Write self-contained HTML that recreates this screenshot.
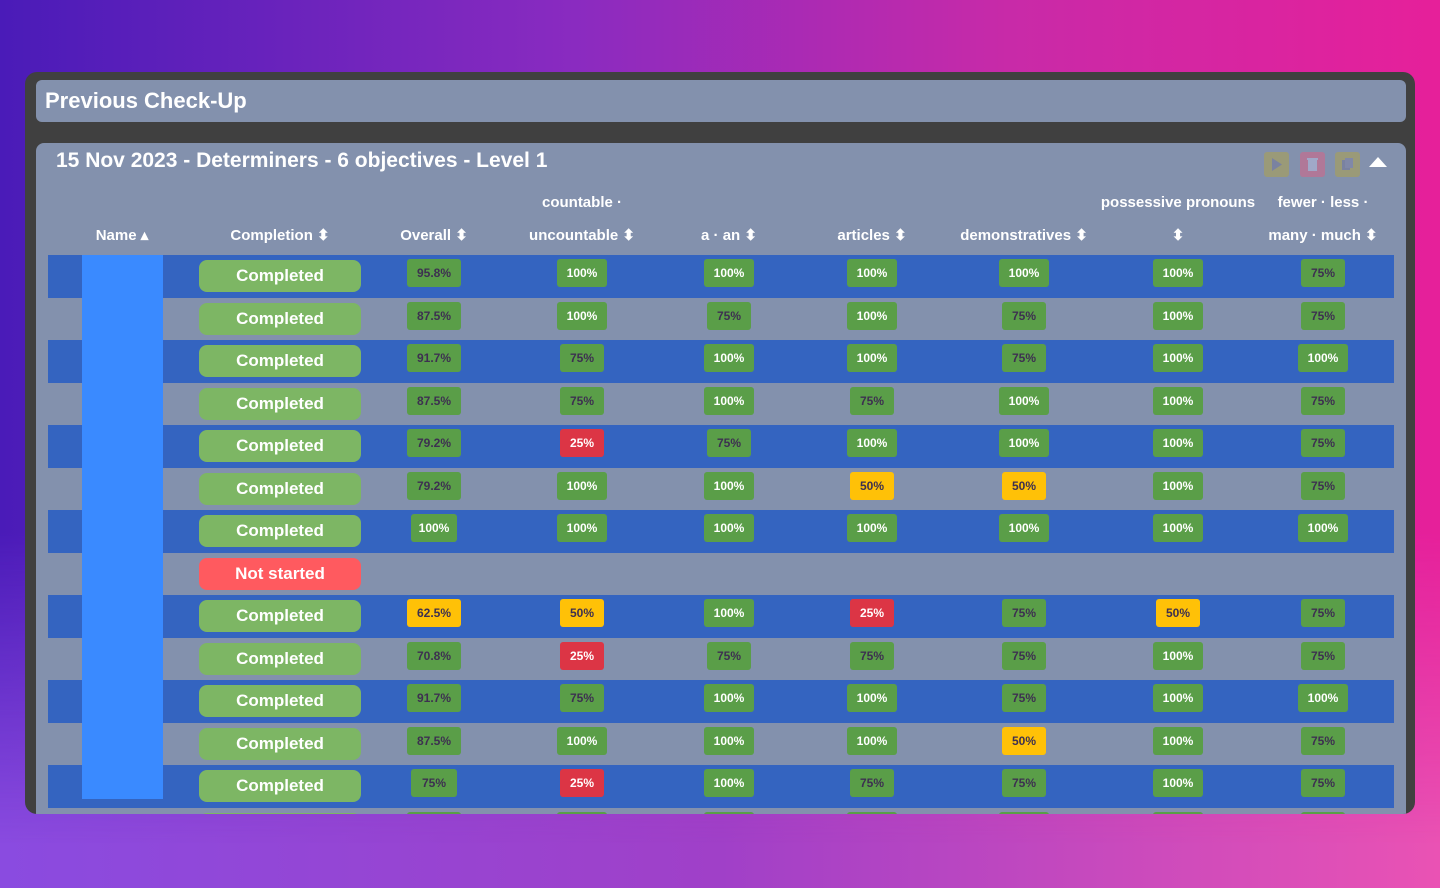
<!DOCTYPE html>
<html><head><meta charset="utf-8"><style>
*{box-sizing:border-box;margin:0;padding:0}
body{width:1440px;height:888px;overflow:hidden;font-family:"Liberation Sans",sans-serif;
background:linear-gradient(90deg,#8a4be0,#a040c8 50%,#ea52b4);position:relative}
.bgtop{position:absolute;left:0;top:0;width:1440px;height:888px;background:linear-gradient(90deg,#4a1bb8 0%,#8a2bc0 40%,#c82aa8 70%,#e6209a 100%);
-webkit-mask-image:linear-gradient(to bottom,#000 0%,#000 60%,transparent 95%);mask-image:linear-gradient(to bottom,#000 0%,#000 60%,transparent 95%)}
#outer{position:absolute;left:25px;top:72px;width:1390px;height:742px;background:#404040;border-radius:12px;overflow:hidden}
#titlebar{position:absolute;left:11px;top:8px;width:1370px;height:42px;background:#8391ad;border-radius:6px;color:#fff;font-size:22px;font-weight:bold;padding:8px 9px}
#inner{position:absolute;left:11px;top:71px;width:1370px;height:700px;background:#8391ad;border-radius:8px}
#subtitle{position:absolute;left:20px;top:6px;color:#fff;font-size:21px;font-weight:bold}
.ico{position:absolute;top:9px;width:25px;height:25px;border-radius:3px}
.hdr{position:absolute;color:#fff;font-size:15px;font-weight:bold;text-align:center;white-space:nowrap}
.row{position:absolute;left:12px;width:1346px;height:42.5px}
.badge{position:absolute;height:28px;border-radius:3px;font-size:12px;font-weight:bold;text-align:center;line-height:28px;color:#3d3050}
.pill{position:absolute;left:151px;width:162px;height:32px;border-radius:8px;color:#fff;font-size:17px;font-weight:bold;text-align:center;line-height:32px}
</style></head><body>
<div class="bgtop"></div>
<div id="outer">
<div id="titlebar">Previous Check-Up</div>
<div id="inner">
<div id="subtitle">15 Nov 2023 - Determiners - 6 objectives - Level 1</div>
<div class="ico" style="left:1228px;background:#9a9a78"><svg width="25" height="25"><path d="M8 6 L18 12.5 L8 19Z" fill="#7a82a0"/></svg></div>
<div class="ico" style="left:1264px;background:#b07898"><svg width="25" height="25"><rect x="8" y="8" width="9" height="11" fill="#a0a8c8"/><rect x="7" y="6" width="11" height="2" fill="#a0a8c8"/></svg></div>
<div class="ico" style="left:1299px;background:#9a9a78"><svg width="25" height="25"><rect x="7" y="8" width="8" height="10" fill="#7a82a0"/><rect x="10" y="6" width="8" height="10" fill="#8088a8"/></svg></div>
<div style="position:absolute;left:1333px;top:14px;width:0;height:0;border-left:9px solid transparent;border-right:9px solid transparent;border-bottom:10px solid #fff"></div>
<div id="hdrs"></div>
<div id="rows"></div>
<div style="position:absolute;left:46px;top:112px;width:81px;height:544px;background:#3a8aff"></div>
</div></div>
<script>
const columns=["Overall","countable · uncountable","a · an","articles","demonstratives","possessive pronouns","fewer · less · many · much"];
const statuses=["Completed","Completed","Completed","Completed","Completed","Completed","Completed","Not started","Completed","Completed","Completed","Completed","Completed","Completed"];
const overall=[95.8,87.5,91.7,87.5,79.2,79.2,100,null,62.5,70.8,91.7,87.5,75,87.5];
const countable=[100,100,75,75,25,100,100,null,50,25,75,100,25,100];
const aan=[100,75,100,100,75,100,100,null,100,75,100,100,100,100];
const articles=[100,100,100,75,100,50,100,null,25,75,100,100,75,100];
const demonstratives=[100,75,75,100,100,50,100,null,75,75,75,50,75,100];
const possessive=[100,100,100,100,100,100,100,null,50,100,100,100,100,100];
const fewer=[75,75,100,75,75,75,100,null,75,75,100,75,75,75];
const series=[overall,countable,aan,articles,demonstratives,possessive,fewer];
const centers=[398,546,693,836,988,1142,1287];
const H=document.getElementById('hdrs'),R=document.getElementById('rows');
function hdr(txt,cx,y,name){const d=document.createElement('div');d.className='hdr';d.textContent=txt;d.style.left=(cx-150)+'px';d.style.width='300px';d.style.top=y+'px';


H.appendChild(d);}
hdr('Name ▴',86,83,'name-header');hdr('Completion ⬍',244,83,'completion-header');
hdr('Overall ⬍',398,83,'overall-header');
hdr('countable ·',546,51,'countable-header');hdr('uncountable ⬍',546,83,'countable-header-sort');
hdr('a · an ⬍',693,83,'a-an-header');hdr('articles ⬍',836,83,'articles-header');hdr('demonstratives ⬍',988,83,'demonstratives-header');
hdr('possessive pronouns',1142,51,'possessive-header');hdr('⬍',1142,83,'possessive-header-sort');
hdr('fewer · less ·',1287,51,'fewer-header');hdr('many · much ⬍',1287,83,'fewer-header-sort');
function fmt(v){return (Math.round(v*10)/10)+'%';}
statuses.forEach((s,i)=>{
 const r=document.createElement('div');r.className='row';r.style.top=(112+i*42.5)+'px';r.style.background=i%2?'#8391ad':'#3464c0';
 
 
 const p=document.createElement('div');p.className='pill';p.textContent=s;p.style.top='5px';p.style.background=s==='Completed'?'#7db664':'#ff5a5f';
 
 
 r.appendChild(p);
 series.forEach((arr,c)=>{const v=arr[i];if(v==null)return;
  const b=document.createElement('div');b.className='badge';const t=fmt(v);b.textContent=t;
  const w=c===0?(t.length>4?54:46):(v===100?50:(t.length>3?46:44));
  b.style.width=w+'px';b.style.left=(centers[c]-12-w/2)+'px';b.style.top='4px';
  b.style.background=v>=70?'#5a9e48':(v>=50?'#ffc107':'#dc3545');
  if(v===100||v<50)b.style.color='#fff';
  
  
  r.appendChild(b);});
 R.appendChild(r);
});
</script>
</body></html>
